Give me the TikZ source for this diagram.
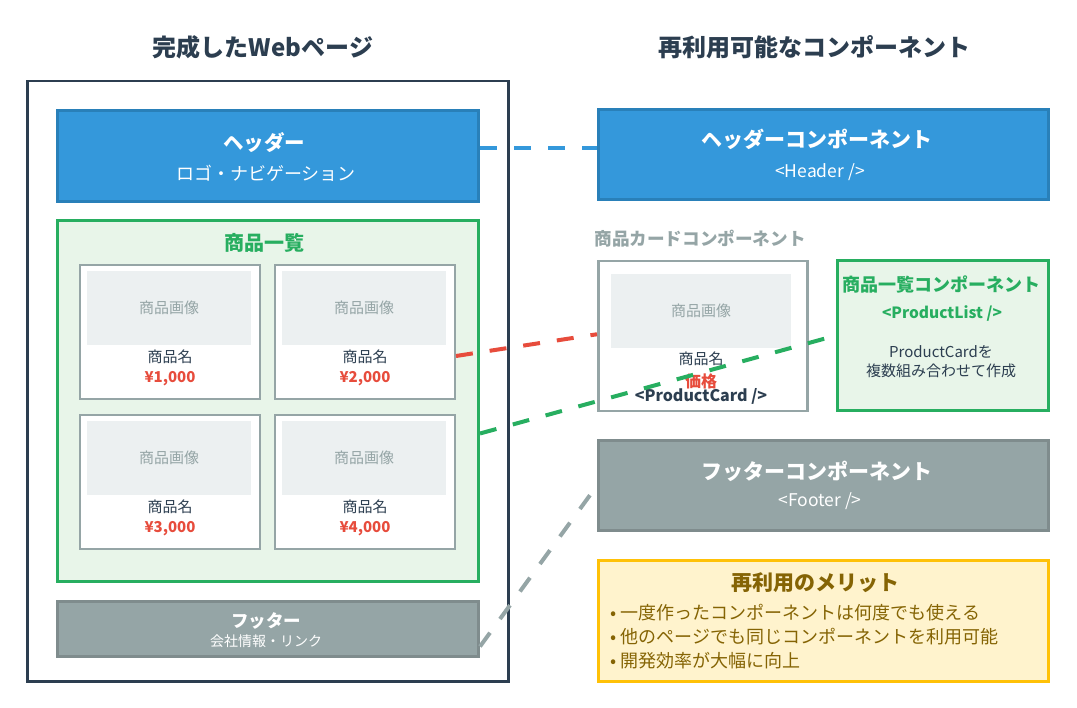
\documentclass[tikz,border=0pt]{standalone}
\usepackage{fontspec}
\setmainfont{Noto Sans CJK JP}
\usepackage{xcolor}
\usetikzlibrary{calc, positioning}

\definecolor{navy}{HTML}{2C3E50}
\definecolor{hblue}{HTML}{3498DB}
\definecolor{hblueline}{HTML}{2980B9}
\definecolor{lgreen}{HTML}{27AE60}
\definecolor{lgreenfill}{HTML}{E8F5E9}
\definecolor{fgray}{HTML}{95A5A6}
\definecolor{fgrayline}{HTML}{7F8C8D}
\definecolor{imgfill}{HTML}{ECF0F1}
\definecolor{pricered}{HTML}{E74C3C}
\definecolor{meritfill}{HTML}{FFF3CD}
\definecolor{meritline}{HTML}{FFC107}
\definecolor{merittext}{HTML}{856404}

\newcommand{\fsz}[1]{\fontsize{#1pt}{#1pt}\selectfont}

\begin{document}
\begin{tikzpicture}[x=1pt, y=-1pt,
                dashlink/.style={line width=4pt, dash pattern=on 17pt off 17pt}]
        \tikzset{
                basic/.style     = {rectangle, inner sep=0pt, anchor=north west},
                bar/.style       = {basic, line width=3pt},
                headerbox/.style = {bar, draw=hblueline, fill=hblue},
                footerbox/.style = {bar, draw=fgrayline, fill=fgray},
                listbox/.style   = {bar, draw=lgreen, fill=lgreenfill},
                cardbox/.style   = {basic, draw=fgray, line width=2pt, fill=white},
                imgbox/.style    = {basic, fill=imgfill, text=fgray, font=\fsz{15}},
                title/.style     = {text=navy, font=\bfseries\fsz{24}},
                boxhead/.style   = {text=white, font=\bfseries\fsz{21}},
                boxsub/.style    = {text=white, font=\fsz{17.5}},
                nametext/.style  = {text=navy, font=\fsz{15}},
                pricetext/.style = {text=pricered, font=\bfseries\fsz{15}},
                bullet/.style    = {anchor=west, text=merittext, font=\fsz{18}}
        }
        \useasboundingbox (0,0) rectangle (1077,708);

        % column titles
        \node[title] (ltitle) at (263,47) {完成したWebページ};
        \node[title] (rtitle) at (814,47) {再利用可能なコンポーネント};

        % the finished page, left
        \node[basic, draw=navy, line width=2.5pt, minimum width=481pt, minimum height=600pt] (page) at (26,80) {};

        \node[headerbox, minimum width=421pt, minimum height=91pt] (header) at (56,109) {};
        \node[boxhead, font=\bfseries\fsz{20.5}] (headerh) at (264,143) {ヘッダー};
        \node[boxsub, font=\fsz{18}] (headers) at (266,173) {ロゴ・ナビゲーション};

        \node[listbox, minimum width=421pt, minimum height=361pt] (plist) at (56,219) {};
        \node[text=lgreen, font=\bfseries\fsz{20}] (plisth) at (264,243) {商品一覧};

        % product cards, each with image, name and price
        \foreach \n/\x/\y in {1/79/264, 2/274/264, 3/79/414, 4/274/414} {
                \node[cardbox, minimum width=180pt, minimum height=134pt] (card\n) at (\x,\y) {};
                \node[imgbox, minimum width=164pt, minimum height=74pt] (img\n)
                        at ($(card\n.north west)+(8,7)$) {商品画像};
                \node[nametext] (name\n) at ($(card\n.north)+(0,93)$) {商品名};
                \node[pricetext] (price\n) at ($(card\n.north)+(0,115)$) {¥\n,000};
        }

        \node[footerbox, minimum width=421pt, minimum height=55pt] (footer) at (56,600) {};
        \node[text=white, font=\bfseries\fsz{17.5}] (footerh) at (266,621) {フッター};
        \node[text=white, font=\fsz{14}] (footers) at (266,641) {会社情報・リンク};

        % the reusable components, right
        \node[headerbox, minimum width=450pt, minimum height=90pt] (hcomp) at (597,108) {};
        \node[boxhead] (hcomph) at (817,139) {ヘッダーコンポーネント};
        \node[boxsub] (hcomps) at (820,172) {<Header />};

        \node[anchor=west, text=fgray, font=\bfseries\fsz{17.6}] (ccardh) at (591,239) {商品カードコンポーネント};
        \node[cardbox, line width=2.5pt, minimum width=209pt, minimum height=150pt] (ccard) at (597,260) {};
        \node[imgbox, minimum width=180pt, minimum height=74pt] (cimg)
                at ($(ccard.north west)+(14,14)$) {商品画像};
        \node[nametext] (cname) at (701,359) {商品名};
        \node[pricetext, font=\bfseries\fsz{16}] (cprice) at (701,381) {価格};
        \node[text=navy, font=\bfseries\fsz{16}] (ccardtag) at (701,396) {<ProductCard />};

        \node[listbox, minimum width=211pt, minimum height=150pt] (lcomp) at (836,259) {};
        \node[text=lgreen, font=\bfseries\fsz{18}] (lcomph) at (941,284) {商品一覧コンポーネント};
        \node[text=lgreen, font=\bfseries\fsz{15.5}] (lcomptag) at (942,313) {<ProductList />};
        \node[text=navy, font=\fsz{15}, align=center] (lcompnote) at (941,362)
                {ProductCardを\\[4pt]複数組み合わせて作成};

        \node[footerbox, minimum width=450pt, minimum height=90pt] (fcomp) at (597,439) {};
        \node[boxhead] (fcomph) at (817,471) {フッターコンポーネント};
        \node[boxsub] (fcomps) at (820,501) {<Footer />};

        % merits of reuse
        \node[bar, draw=meritline, fill=meritfill, minimum width=450pt, minimum height=121pt] (merit) at (597,559) {};
        \node[text=merittext, font=\bfseries\fsz{21}] (merith) at (815,583) {再利用のメリット};
        \node[bullet] (merit1) at (607,613) {• 一度作ったコンポーネントは何度でも使える};
        \node[bullet] (merit2) at (607,637) {• 他のページでも同じコンポーネントを利用可能};
        \node[bullet] (merit3) at (607,661) {• 開発効率が大幅に向上};

        % dashed links from page parts to components
        \draw[dashlink, draw=hblue] ($(header.east)+(0,-7.5)$) -- ($(hcomp.west)+(0,-6)$);
        \draw[dashlink, draw=pricered] ($(card2.east)+(0,24)$) -- ($(ccard.west)+(0,-2)$);
        \draw[dashlink, draw=lgreen] ($(plist.east)+(0,32.5)$) -- (lcomp.west);
        \draw[dashlink, draw=fgray] ($(footer.east)+(0,17.5)$) -- (fcomp.west);
\end{tikzpicture}
\end{document}
